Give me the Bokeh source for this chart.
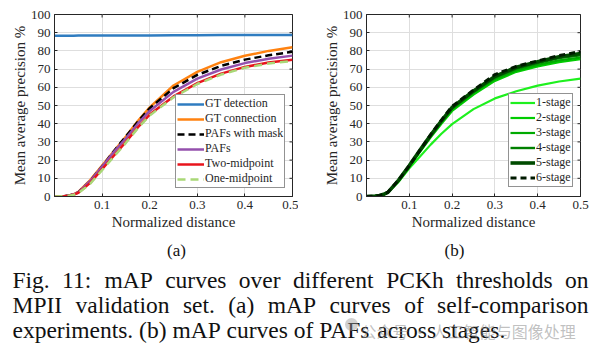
import math
from bokeh.plotting import figure
from bokeh.models import Range1d, FixedTicker, Legend, LegendItem
from bokeh.layouts import column, row
from bokeh.embed import file_html
from bokeh.resources import INLINE
from bokeh.core.properties import value

# ---------------- data ----------------
thresholds = [0.0, 0.02, 0.03, 0.04, 0.05, 0.075, 0.1, 0.125, 0.15, 0.175,
              0.2, 0.25, 0.3, 0.35, 0.4, 0.45, 0.5]

gt_detection = [88.3, 88.3, 88.3, 88.3, 88.4, 88.4, 88.4, 88.4, 88.5, 88.5,
                88.5, 88.6, 88.6, 88.7, 88.7, 88.8, 88.8]
gt_connection = [0, 0.2, 0.5, 1.2, 2.5, 9.0, 17.0, 25.0, 33.0, 41.5,
                 49.0, 61.0, 68.5, 73.8, 77.3, 80.0, 82.0]
pafs_with_mask = [0, 0.2, 0.5, 1.1, 2.3, 8.5, 16.5, 25.0, 33.0, 41.0,
                  48.5, 59.5, 66.8, 71.8, 75.2, 77.6, 79.5]
pafs = [0, 0.2, 0.5, 1.1, 2.3, 8.5, 16.5, 24.5, 32.0, 40.0,
        47.0, 57.5, 64.8, 69.8, 73.3, 75.7, 77.4]
two_midpoint = [0, 0.2, 0.4, 1.0, 2.0, 7.5, 15.0, 22.5, 30.0, 38.0,
                45.0, 55.0, 62.3, 67.5, 71.2, 73.6, 75.2]
one_midpoint = [0, 0.2, 0.4, 0.9, 1.8, 7.0, 14.5, 22.0, 29.5, 37.5,
                44.5, 54.5, 61.8, 67.0, 70.7, 73.1, 74.5]
labels_a = ["GT detection", "GT connection", "PAFs with mask", "PAFs",
            "Two-midpoint", "One-midpoint"]

stage1 = [0, 0.2, 0.5, 1.1, 2.2, 8.0, 15.5, 22.0, 28.5, 34.5,
          39.8, 48.0, 53.9, 57.8, 60.9, 63.2, 64.8]
stage2 = [0, 0.2, 0.5, 1.1, 2.2, 8.5, 16.3, 24.5, 32.5, 40.0,
          47.0, 56.0, 63.5, 68.5, 71.5, 73.8, 75.4]
stage3 = [0, 0.2, 0.5, 1.1, 2.3, 8.7, 16.6, 25.0, 33.0, 40.7,
          48.0, 57.0, 64.5, 69.3, 72.3, 74.8, 76.3]
stage4 = [0, 0.2, 0.5, 1.1, 2.3, 8.8, 16.8, 25.2, 33.5, 41.2,
          48.5, 57.5, 65.3, 70.3, 73.3, 76.0, 77.6]
stage5 = [0, 0.2, 0.5, 1.2, 2.3, 9.0, 17.0, 25.5, 33.8, 41.6,
          49.0, 58.0, 66.0, 71.0, 74.0, 76.8, 78.6]
stage6 = [0, 0.2, 0.5, 1.2, 2.4, 9.0, 17.0, 25.5, 34.0, 42.0,
          49.5, 58.5, 67.0, 71.5, 74.5, 77.5, 79.6]
labels_b = ["1-stage", "2-stage", "3-stage", "4-stage", "5-stage", "6-stage"]

x_ticks = [0.1, 0.2, 0.3, 0.4, 0.5]
y_ticks = [0, 10, 20, 30, 40, 50, 60, 70, 80, 90, 100]

caption_lines = [
    "Fig. 11: mAP curves over different PCKh thresholds on",
    "MPII validation set. (a) mAP curves of self-comparison",
    "experiments. (b) mAP curves of PAFs across stages.",
]
sub_labels = ["(a)", "(b)"]
watermark = "公众号 · 人工智能与图像处理"

# ---------------- style ----------------
SERIF = "Liberation Serif"
INK = "#262626"
TOP_H = 236
X_MAX, Y_MAX = 0.5, 100


def make_panel(width, bl, br, ylabel):
    p = figure(width=width, height=TOP_H, x_range=Range1d(0, X_MAX),
               y_range=Range1d(0, Y_MAX), output_backend="svg",
               toolbar_location=None, title=None, min_border_left=bl,
               min_border_right=br, min_border_top=14, min_border_bottom=40)
    p.background_fill_color = "white"
    p.border_fill_color = "white"
    p.outline_line_color = INK
    p.outline_line_width = 1
    p.outline_line_alpha = 1
    xa = p.below[0]
    ya = p.left[0]
    xa.ticker = FixedTicker(ticks=x_ticks)
    ya.ticker = FixedTicker(ticks=y_ticks)
    for ax in (xa, ya):
        ax.major_tick_in = 3
        ax.major_tick_out = 0
        ax.minor_tick_line_color = None
        ax.major_tick_line_color = INK
        ax.axis_line_color = INK
        ax.major_label_text_font = SERIF
        ax.major_label_text_font_size = "13px"
        ax.major_label_text_color = INK
        ax.axis_label_text_font = SERIF
        ax.axis_label_text_font_size = "15px"
        ax.axis_label_text_font_style = "normal"
        ax.axis_label_text_color = INK
        ax.major_label_standoff = 4
    xa.axis_label = "Normalized distance"
    xa.axis_label_standoff = 2
    ya.axis_label = ylabel
    ya.axis_label_standoff = 0
    p.xgrid.ticker = FixedTicker(ticks=x_ticks)
    p.ygrid.ticker = FixedTicker(ticks=y_ticks)
    p.grid.grid_line_color = "#dedede"
    p.grid.grid_line_width = 1
    # inward tick marks on the right and top edges of the box
    p.scatter(x=[X_MAX] * len(y_ticks), y=y_ticks, marker="dash", size=6,
              line_color=INK, line_width=1)
    p.scatter(x=x_ticks, y=[Y_MAX] * len(x_ticks), marker="dash", size=6,
              angle=math.pi / 2, line_color=INK, line_width=1)
    return p


def add_legend(p, renderers, labels, loc, glyph_w, row_h):
    leg = Legend(items=[LegendItem(label=l, renderers=[r])
                        for l, r in zip(labels, renderers)],
                 location=loc, orientation="vertical",
                 label_text_font=SERIF, label_text_font_size="12px",
                 label_text_color=INK, glyph_width=glyph_w,
                 glyph_height=row_h, label_height=row_h, label_standoff=1,
                 spacing=0, padding=1, margin=0,
                 border_line_color=INK, border_line_width=1,
                 background_fill_color="white", background_fill_alpha=1)
    p.add_layout(leg)


# ---------------- panel (a) ----------------
pa = make_panel(298, 54, 6, "Mean average precision %")
series_a = [gt_detection, gt_connection, pafs_with_mask, pafs,
            two_midpoint, one_midpoint]
colors_a = ["#2f7cc0", "#ff8210", "#000000", "#9450ad", "#e8141c", "#a9d877"]
dashes_a = ["solid", "solid", "7 4", "solid", "solid", "8 5"]
rends_a = []
for ys, c, d in zip(series_a, colors_a, dashes_a):
    rends_a.append(pa.line(thresholds, ys, line_color=c, line_width=2.5,
                           line_dash=d))
add_legend(pa, rends_a, labels_a, (121, 8), 27, 14)

# ---------------- panel (b) ----------------
pb = make_panel(297, 68, 15, "Mean average precision %")
series_b = [stage1, stage2, stage3, stage4, stage5, stage6]
colors_b = ["#1ef01e", "#00cc00", "#00aa00", "#008000", "#004b00", "#001a00"]
widths_b = [2.2, 2.2, 2.2, 2.4, 3.6, 3.0]
dashes_b = ["solid", "solid", "solid", "solid", "solid", "6 4"]
rends_b = []
for ys, c, w, d in zip(series_b, colors_b, widths_b, dashes_b):
    rends_b.append(pb.line(thresholds, ys, line_color=c, line_width=w,
                           line_dash=d))
add_legend(pb, rends_b, labels_b, (142, 9), 25, 13)

# ---------------- caption ----------------
CAP_H = 354 - TOP_H
pc = figure(width=595, height=CAP_H, x_range=Range1d(0, 595),
            y_range=Range1d(CAP_H, 0), output_backend="svg",
            toolbar_location=None, title=None, min_border=0,
            x_axis_location=None, y_axis_location=None)
pc.grid.visible = False
pc.outline_line_color = None
pc.background_fill_color = "white"
pc.border_fill_color = "white"

# Times-compatible advance widths (per 1000 em) used to justify the caption
ADV = {' ': 250, '(': 333, ')': 333, '-': 333, '.': 250, ':': 278, '1': 500,
       'A': 722, 'C': 667, 'F': 556, 'I': 333, 'K': 722, 'M': 889, 'P': 556,
       'a': 444, 'b': 500, 'c': 444, 'd': 500, 'e': 444, 'f': 333, 'g': 500,
       'h': 500, 'i': 278, 'l': 278, 'm': 778, 'n': 500, 'o': 500, 'p': 500,
       'r': 333, 's': 389, 't': 278, 'u': 500, 'v': 500, 'x': 500}
CAP_SIZE = 23.5


def adv(word):
    return sum(ADV.get(ch, 500) for ch in word) / 1000.0 * CAP_SIZE


left_x, right_x = 12.0, 588.0
baselines = [43.5, 68.5, 93.5]
wx, wy, wt = [], [], []
for i, line in enumerate(caption_lines):
    words = line.split(" ")
    widths = [adv(w) for w in words]
    if i < len(caption_lines) - 1:
        gap = (right_x - left_x - sum(widths)) / (len(words) - 1)
    else:
        gap = adv(" ")
    x = left_x
    for w, ww in zip(words, widths):
        wx.append(x)
        wy.append(baselines[i])
        wt.append(w)
        x += ww + gap

pc.text(x=wx, y=wy, text=wt, text_font=value(SERIF),
        text_font_size=value("%spx" % CAP_SIZE), text_color="#111111",
        text_align="left", text_baseline="alphabetic")

pc.text(x=[176, 454], y=[13.5, 13.5], text=sub_labels, text_font=value(SERIF),
        text_font_size=value("17px"), text_color="#111111",
        text_align="center", text_baseline="alphabetic")

# faint watermark
pc.scatter(x=[351], y=[88], size=13, marker="circle", fill_color="#9a9a9a",
           fill_alpha=0.45, line_color=None)
pc.text(x=[360], y=[94], text=[watermark], text_font=value("Noto Sans CJK SC"),
        text_font_size=value("16px"), text_color="#8c8c8c", text_alpha=0.55,
        text_align="left", text_baseline="alphabetic")

layout = column(row(pa, pb), pc)
open("out.html", "w").write(file_html(layout, INLINE))
